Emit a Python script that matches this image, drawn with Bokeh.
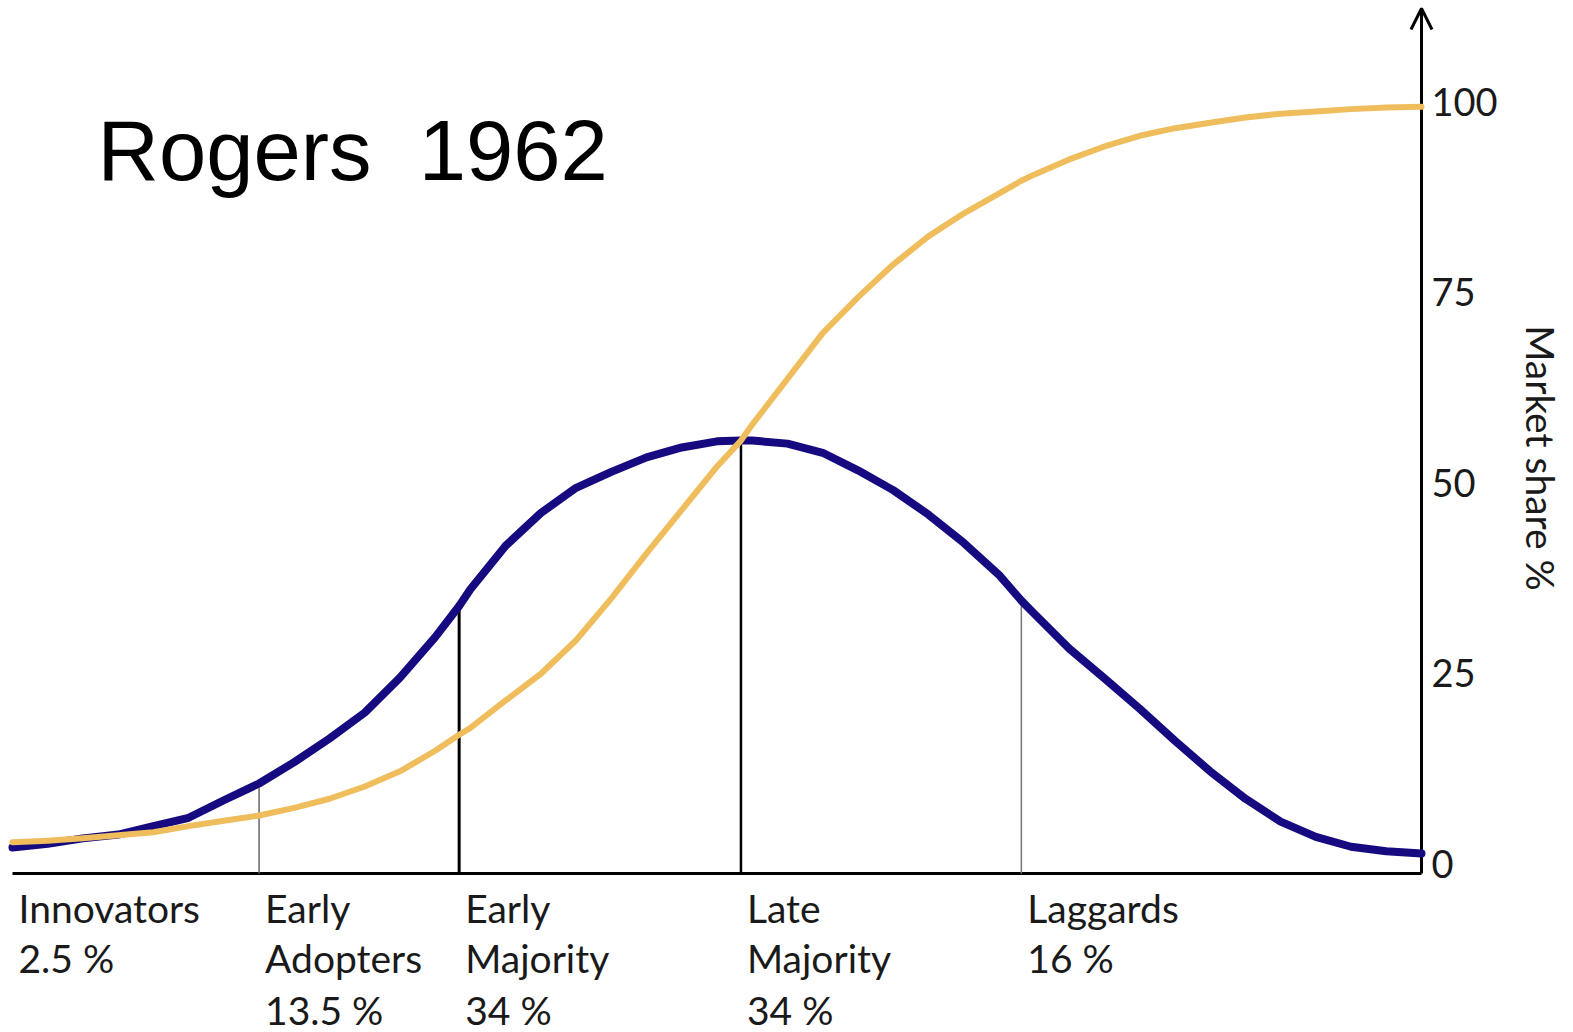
from bokeh.plotting import figure
from bokeh.models import Range1d, Arrow, OpenHead
from bokeh.embed import file_html
from bokeh.resources import INLINE
from bokeh.core.properties import value
import numpy as np

# ---------------- data ----------------
title_text = "Rogers  1962"
categories = ["Innovators", "Early Adopters", "Early Majority", "Late Majority", "Laggards"]
shares = [2.5, 13.5, 34, 34, 16]
segment_starts = [0, 17.5, 31.7, 51.7, 71.6]

time = [0, 2.5, 5, 7.5, 10, 12.5, 15, 17.5, 20, 22.5, 25, 27.5, 30, 31.7, 32.5, 35, 37.5,
        40, 42.5, 45, 47.5, 50, 51.7, 52.5, 55, 57.5, 60, 62.5, 65, 67.5, 70, 71.6, 72.5,
        75, 77.5, 80, 82.5, 85, 87.5, 90, 92.5, 95, 97.5, 100]
adoption = [2.1, 2.6, 3.3, 3.8, 4.9, 6.0, 8.3, 10.5, 13.3, 16.4, 19.8, 24.4, 29.7, 33.8, 36.0,
            41.7, 46.0, 49.3, 51.4, 53.3, 54.6, 55.4, 55.5, 55.5, 55.1, 53.9, 51.6, 49.0, 45.8,
            42.1, 37.9, 34.5, 32.8, 28.2, 24.3, 20.3, 16.1, 12.1, 8.5, 5.5, 3.5, 2.2, 1.6, 1.3]
market_share = [2.8, 3.0, 3.3, 3.7, 4.1, 4.9, 5.6, 6.3, 7.3, 8.5, 10.1, 12.1, 14.8, 16.9, 17.8,
                21.4, 24.9, 29.3, 34.8, 40.7, 46.4, 52.1, 55.5, 57.6, 63.6, 69.6, 74.3, 78.6,
                82.3, 85.3, 87.9, 89.6, 90.4, 92.4, 94.1, 95.5, 96.5, 97.2, 97.9, 98.4, 98.7,
                99.0, 99.2, 99.3]
y_ticks = [0, 25, 50, 75, 100]
y_label = "Market share %"

# ---------------- layout ----------------
W, H = 1573, 1032
PX_X = 14.09          # pixels per time unit
PX_Y = 7.62           # pixels per percent
LEFT_PX = 12          # pixel of time 0
ZERO_PX = 863         # pixel of 0 %
X0, X1 = -LEFT_PX / PX_X, (W - LEFT_PX) / PX_X
Y0, Y1 = (ZERO_PX - H) / PX_Y, ZERO_PX / PX_Y
AXIS_Y = -10 / PX_Y
X_END = 100
FONT = "Lato"

def ypx(py):
    """y data value of a page pixel row"""
    return (ZERO_PX - py) / PX_Y

def xpx(px):
    return (px - LEFT_PX) / PX_X

p = figure(width=W, height=H, x_range=Range1d(X0, X1), y_range=Range1d(Y0, Y1),
           output_backend="svg", toolbar_location=None,
           x_axis_location=None, y_axis_location=None, min_border=0)
p.grid.visible = False
p.outline_line_color = None
p.background_fill_color = "white"
p.border_fill_color = "white"

# axes lines
tip_y = ypx(8)
p.segment(x0=[0, X_END], y0=[AXIS_Y, AXIS_Y], x1=[X_END, X_END], y1=[AXIS_Y, tip_y],
          line_color="black", line_width=3)
p.add_layout(Arrow(end=OpenHead(size=21, line_width=3, line_color="black"),
                   x_start=X_END, y_start=100, x_end=X_END, y_end=tip_y,
                   line_width=3, line_color="black"))

# right axis tick labels and title
p.text(x=[X_END] * len(y_ticks), y=y_ticks, text=[str(t) for t in y_ticks], x_offset=10,
       text_font=value(FONT), text_font_size="38px", text_color="#1a1a1a",
       text_baseline="middle", text_align="left")
p.text(x=[xpx(1540)], y=[ypx(457.5)], text=[y_label], angle=-np.pi / 2,
       text_font=value(FONT), text_font_size="39px", text_color="#1a1a1a",
       text_baseline="middle", text_align="center")

# dividers between segments up to the adoption curve
bounds_x = segment_starts[1:]
div_tops = list(np.interp(bounds_x, time, adoption))
p.segment(x0=bounds_x, y0=[AXIS_Y] * len(bounds_x), x1=bounds_x, y1=div_tops,
          line_color=["#666666", "black", "black", "#777777"],
          line_width=[1.5, 3, 2.5, 1.5])

# curves
p.line(time, adoption, line_color="#150a80", line_width=8, line_join="round", line_cap="round")
p.line(time, market_share, line_color="#F0BD5C", line_width=6, line_join="round", line_cap="round")

# category labels below the axis
LAB_SIZE = 39
baselines = [923, 973, 1025]
lx, ly, lt = [], [], []
for start, cat, sh in zip(segment_starts, categories, shares):
    lines = cat.split(" ") + [f"{sh:g} %"]
    for k, t in enumerate(lines):
        lx.append(start)
        ly.append(ypx(baselines[k] - 0.387 * LAB_SIZE))
        lt.append(t)
p.text(x=lx, y=ly, text=lt, x_offset=6, text_font=value(FONT), text_font_size=f"{LAB_SIZE}px",
       text_color="#1a1a1a", text_baseline="middle", text_align="left")

# title
p.text(x=[xpx(97)], y=[ypx(179 - 0.3465 * 85)], text=[title_text.replace("  ", "\u00a0 ")],
       text_font=value("Liberation Sans"), text_font_size="85px", text_color="black",
       text_baseline="middle", text_align="left")

open("out.html", "w").write(file_html(p, INLINE))
